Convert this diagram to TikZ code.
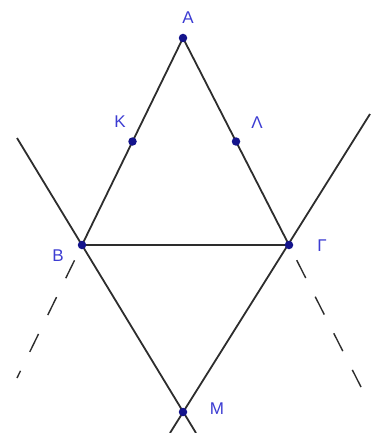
\documentclass[tikz,border=0pt]{standalone}
\usepackage{fontspec}
\setmainfont{Liberation Sans}
\usetikzlibrary{calc}
\definecolor{ptblue}{RGB}{20,20,140}
\definecolor{lblblue}{RGB}{60,60,210}
\definecolor{linegray}{RGB}{45,45,45}

\begin{document}
\begin{tikzpicture}[
    x=1pt, y=-1pt,
    seg/.style={draw=linegray, line width=1.8pt},
    ext/.style={draw=linegray, line width=1.4pt, dash pattern=on 20pt off 21pt, dash phase=24pt},
    pt/.style={circle, fill=ptblue, inner sep=0pt, minimum size=8.5pt},
    lbl/.style={text=lblblue, font=\fontsize{17}{17}\selectfont, inner sep=1pt}
]
\useasboundingbox (0,0) rectangle (370,433);

% points
\coordinate (A) at (183,38);
\coordinate (B) at (82,245);
\coordinate (G) at (289,245);
\coordinate (M) at (183,412);
\coordinate (K) at ($(A)!0.5!(B)$);
\coordinate (L) at ($(A)!0.5!(G)$);

% free ends of the lines
\coordinate (bl) at (17,138);
\coordinate (gr) at (370,114);
\coordinate (mb) at (196,433);
\coordinate (mg) at (170,433);
\coordinate (bd) at (17,378);
\coordinate (gd) at (361,387);

\draw[seg] (A) -- (B);
\draw[seg] (A) -- (G);
\draw[seg] (B) -- (G);
\draw[seg] (bl) -- (mb);
\draw[seg] (gr) -- (mg);
\draw[ext] (B) -- (bd);
\draw[ext] (G) -- (gd);

\node[pt] (nA) at (A) {};
\node[pt] (nK) at (K) {};
\node[pt] (nL) at (L) {};
\node[pt] (nB) at (B) {};
\node[pt] (nG) at (G) {};
\node[pt] (nM) at (M) {};

\node[lbl] (tA) at (188,18) {Α};
\node[lbl] (tK) at (120,122) {Κ};
\node[lbl] (tL) at (257,123) {Λ};
\node[lbl] (tB) at (58,256) {Β};
\node[lbl] (tG) at (322,246) {Γ};
\node[lbl] (tM) at (217,409) {Μ};
\end{tikzpicture}
\end{document}
